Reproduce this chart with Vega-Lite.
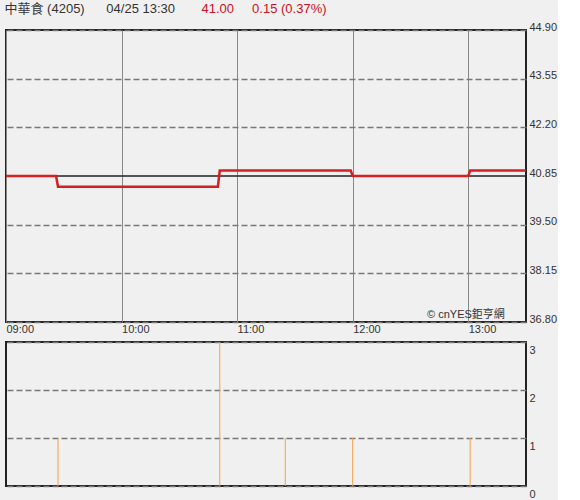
{
  "$schema": "https://vega.github.io/schema/vega-lite/v6.json",
  "background": "#f0f0f0",
  "autosize": {"type": "pad"},
  "padding": {"left": 0, "right": 0, "top": 1, "bottom": 0},
  "datasets": {
    "price": [
      {"t": "2024-04-25T09:00", "p": 40.85},
      {"t": "2024-04-25T09:26", "p": 40.85},
      {"t": "2024-04-25T09:27", "p": 40.55},
      {"t": "2024-04-25T10:50", "p": 40.55},
      {"t": "2024-04-25T10:51", "p": 41.0},
      {"t": "2024-04-25T11:59", "p": 41.0},
      {"t": "2024-04-25T12:00", "p": 40.85},
      {"t": "2024-04-25T13:00", "p": 40.85},
      {"t": "2024-04-25T13:01", "p": 41.0},
      {"t": "2024-04-25T13:30", "p": 41.0}
    ],
    "volume": [
      {"t": "2024-04-25T09:27", "v": 1},
      {"t": "2024-04-25T10:51", "v": 3},
      {"t": "2024-04-25T11:25", "v": 1},
      {"t": "2024-04-25T12:00", "v": 1},
      {"t": "2024-04-25T13:01", "v": 1}
    ]
  },
  "spacing": 20,
  "bounds": "flush",
  "vconcat": [
    {
      "width": 520,
      "height": 292,
      "layer": [
        {
          "data": {"values": [{"ref": 40.85}]},
          "mark": {"type": "rule", "color": "#222222", "strokeWidth": 1.5},
          "encoding": {"y": {"field": "ref", "type": "quantitative", "scale": {"domain": [36.8, 44.9], "zero": false, "nice": false}}}
        },
        {
          "data": {"name": "price"},
          "mark": {"type": "line", "color": "#d42020", "strokeWidth": 2.5, "interpolate": "linear"},
          "encoding": {
            "x": {
              "field": "t",
              "type": "temporal",
              "scale": {"domain": [
                {"year": 2024, "month": 4, "date": 25, "hours": 9, "minutes": 0},
                {"year": 2024, "month": 4, "date": 25, "hours": 13, "minutes": 30}
              ]},
              "axis": {
                "title": "中華食 (4205)\u00a0\u00a0\u00a0\u00a0\u00a0\u00a004/25 13:30",
                "titleX": -2,
                "titleY": -310,
                "titleAlign": "left",
                "titleAnchor": "start",
                "titleBaseline": "alphabetic",
                "titleColor": "#333333",
                "titleFontSize": 13,
                "titleFontWeight": "normal",
                "titleFont": "Liberation Sans, Noto Sans CJK TC",
                "orient": "bottom",
                "values": [
                  {"year": 2024, "month": 4, "date": 25, "hours": 9},
                  {"year": 2024, "month": 4, "date": 25, "hours": 10},
                  {"year": 2024, "month": 4, "date": 25, "hours": 11},
                  {"year": 2024, "month": 4, "date": 25, "hours": 12},
                  {"year": 2024, "month": 4, "date": 25, "hours": 13}
                ],
                "format": "%H:%M",
                "labelAlign": "left",
                "labelBaseline": "top",
                "labelPadding": 1,
                "labelFlush": false,
                "labelOverlap": false,
                "labelColor": "#333333",
                "labelFontSize": 11,
                "labelFont": "Liberation Sans",
                "ticks": false,
                "domain": false,
                "grid": true,
                "gridColor": "#888888",
                "gridWidth": 1,
                "gridOpacity": 1
              }
            },
            "y": {
              "field": "p",
              "type": "quantitative",
              "scale": {"domain": [36.8, 44.9], "zero": false, "nice": false},
              "axis": {
                "title": "41.00\u00a0\u00a0\u00a0\u00a0\u00a00.15 (0.37%)",
                "titleAngle": 0,
                "titleX": -325,
                "titleY": -18,
                "titleAlign": "left",
                "titleBaseline": "alphabetic",
                "titleColor": "#cc1122",
                "titleFontSize": 13,
                "titleFontWeight": "normal",
                "titleFont": "Liberation Sans",
                "orient": "right",
                "values": [36.8, 38.15, 39.5, 40.85, 42.2, 43.55, 44.9],
                "format": ".2f",
                "labelBaseline": "alphabetic",
                "labelPadding": 3,
                "labelFlush": false,
                "labelOverlap": false,
                "labelColor": "#333333",
                "labelFontSize": 11,
                "labelFont": "Liberation Sans",
                "ticks": false,
                "domain": false,
                "grid": true,
                "gridColor": "#777777",
                "gridWidth": 1.5,
                "gridDash": [6, 3],
                "gridOpacity": {"condition": {"test": "abs(datum.value - 40.85) < 0.001", "value": 0}, "value": 1}
              }
            }
          }
        },
        {
          "data": {"values": [{"label": "© cnYES鉅亨網", "wt": "2024-04-25T13:19", "wp": 37.0}]},
          "mark": {"type": "text", "align": "right", "baseline": "middle", "fontSize": 11, "color": "#333333", "font": "Liberation Sans, Noto Sans CJK TC"},
          "encoding": {
            "x": {"field": "wt", "type": "temporal"},
            "y": {"field": "wp", "type": "quantitative"},
            "text": {"field": "label"}
          }
        }
      ]
    },
    {
      "width": 520,
      "height": 144,
      "data": {"name": "volume"},
      "mark": {"type": "rule", "color": "#f5a04a", "strokeWidth": 1},
      "encoding": {
        "x": {
          "field": "t",
          "type": "temporal",
          "scale": {"domain": [
            {"year": 2024, "month": 4, "date": 25, "hours": 9, "minutes": 0},
            {"year": 2024, "month": 4, "date": 25, "hours": 13, "minutes": 30}
          ]},
          "axis": null
        },
        "y": {
          "field": "v",
          "type": "quantitative",
          "scale": {"domain": [0, 3], "nice": false},
          "axis": {
            "title": null,
            "orient": "right",
            "values": [0, 1, 2, 3],
            "format": "d",
            "labelBaseline": "top",
            "labelPadding": 3,
            "labelOffset": 2,
            "labelFlush": false,
            "labelOverlap": false,
            "labelColor": "#333333",
            "labelFontSize": 11,
            "labelFont": "Liberation Sans",
            "ticks": false,
            "domain": false,
            "grid": true,
            "gridColor": "#777777",
            "gridWidth": 1.5,
            "gridDash": [6, 3],
            "gridOpacity": 1
          }
        },
        "y2": {"datum": 0}
      }
    }
  ],
  "config": {
    "view": {"stroke": "#222222", "strokeWidth": 2, "fill": "#f0f0f0"}
  }
}
